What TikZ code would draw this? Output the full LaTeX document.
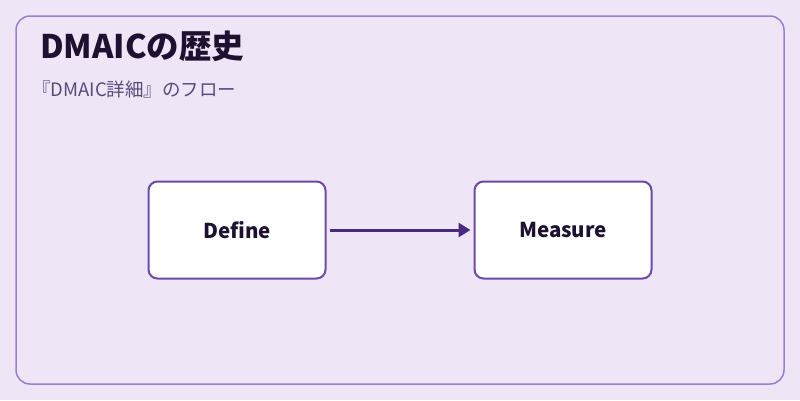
\documentclass[tikz,border=0pt]{standalone}
\usepackage{fontspec}
\setmainfont{Noto Sans CJK JP}
\usetikzlibrary{arrows.meta}
\definecolor{bg}{HTML}{EEE6F6}
\definecolor{frame}{HTML}{9C7DD0}
\definecolor{boxb}{HTML}{6E4AA8}
\definecolor{arr}{HTML}{4A2A7C}
\definecolor{ttl}{HTML}{1E1030}
\definecolor{sub}{HTML}{5A4A7A}
\tikzset{stepbox/.style={draw=boxb,line width=2pt,fill=white,rounded corners=9pt,minimum width=177pt,minimum height=97pt,font=\fontsize{20.5}{24}\selectfont\bfseries,text=ttl}}
\begin{document}
\begin{tikzpicture}[x=1pt,y=-1pt]
\useasboundingbox (0,0) rectangle (800,400);
\fill[bg] (0,0) rectangle (800,400);
\draw[frame,line width=1.5pt,rounded corners=14pt] (16,16) rectangle (784,384);
\node[anchor=west,font=\fontsize{32.5}{37}\selectfont\bfseries,text=ttl,inner sep=0pt] (title) at (40,46) {DMAICの歴史};
\node[anchor=west,font=\fontsize{18.5}{22}\selectfont,text=sub,inner sep=0pt] (subtitle) at (32,89) {『DMAIC詳細』のフロー};
\node[stepbox] (define) at (237,230) {Define};
\node[stepbox] (measure) at (563,230) {Measure};
\draw[arr,line width=3pt,-{Triangle[length=12pt,width=14pt]}] ([xshift=3pt]define.east) -- ([xshift=-3pt]measure.west);
\end{tikzpicture}
\end{document}
